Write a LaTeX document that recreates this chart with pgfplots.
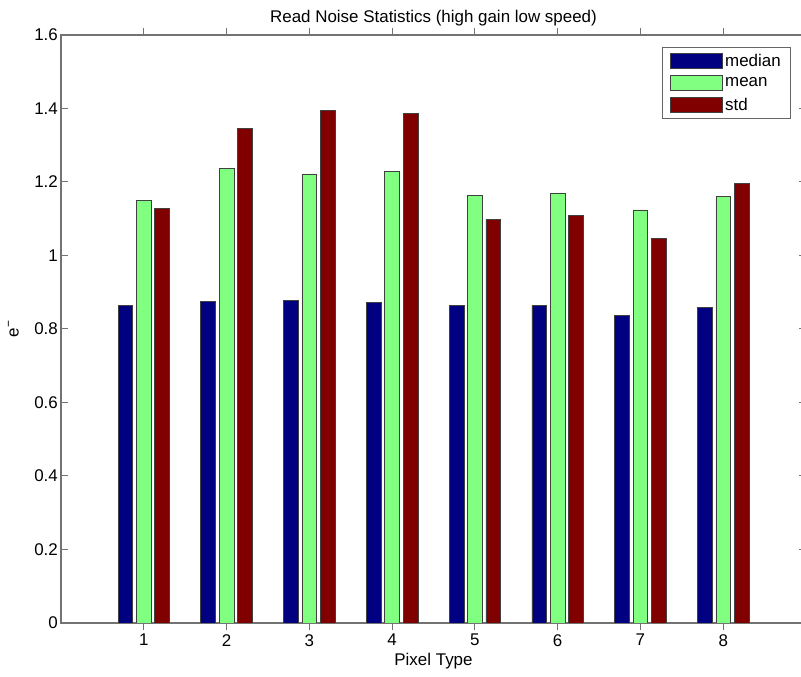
\documentclass[border=0pt]{standalone}
\usepackage{fontspec}
\setmainfont{Liberation Sans}
\usepackage{pgfplots}
\pgfplotsset{compat=1.18}

\definecolor{cmed}{rgb}{0,0,0.5}
\definecolor{cmean}{rgb}{0.5,1,0.5}
\definecolor{cstd}{rgb}{0.5,0,0}
\definecolor{axisgray}{gray}{0.45}

\pgfplotsset{
  swatch/.style={legend image code/.code={%
    \draw[fill=#1, draw=black!75, line width=0.7bp] (0bp,-7.5bp) rectangle (52bp,7.5bp);}},
}

\begin{document}
\begin{tikzpicture}
\begin{axis}[
  at={(0,0)}, anchor=south west,
  scale only axis, width=745bp, height=588bp,
  xmin=0, xmax=9, ymin=0, ymax=1.6,
  xtick={1,2,3,4,5,6,7,8},
  ytick={0,0.2,0.4,0.6,0.8,1,1.2,1.4,1.6},
  yticklabels={0,0.2,0.4,0.6,0.8,1,1.2,1.4,1.6},
  tick align=inside,
  major tick length=7bp,
  axis line style={axisgray, line width=1.2bp},
  every tick/.style={axisgray, line width=1bp},
  /pgf/number format/assume math mode=true,
  tick label style={font=\fontsize{17}{20}\selectfont, inner sep=2bp},
  yticklabel style={xshift=-1bp},
  xticklabel style={yshift=-2bp},
  title={Read Noise Statistics (high gain low speed)},
  title style={font=\fontsize{17}{20}\selectfont, yshift=-1bp},
  xlabel={Pixel Type},
  xlabel style={font=\fontsize{17}{20}\selectfont, yshift=-2bp},
  ylabel={e\textsuperscript{−}},
  ylabel style={font=\fontsize{17}{20}\selectfont, yshift=10bp},
  ybar, bar width=0.178,
  legend style={at={(0.980,0.9796)}, anchor=north east,
    draw=black!60, line width=0.8bp,
    font=\fontsize{17}{19}\selectfont,
    inner xsep=8bp, inner ysep=5bp, row sep=5bp,
    legend cell align=left},
]
\addplot[fill=cmed, draw=black!75, line width=0.7bp, bar shift=-0.222, swatch=cmed]
  coordinates {(1,0.865) (2,0.876) (3,0.878) (4,0.873) (5,0.863) (6,0.863) (7,0.837) (8,0.859)};
\addplot[fill=cmean, draw=black!75, line width=0.7bp, bar shift=0, swatch=cmean]
  coordinates {(1,1.151) (2,1.236) (3,1.222) (4,1.228) (5,1.164) (6,1.168) (7,1.124) (8,1.161)};
\addplot[fill=cstd, draw=black!75, line width=0.7bp, bar shift=0.222, swatch=cstd]
  coordinates {(1,1.128) (2,1.345) (3,1.394) (4,1.387) (5,1.098) (6,1.110) (7,1.046) (8,1.195)};
\legend{median, mean, std}
\end{axis}
\pgfresetboundingbox
\useasboundingbox (-61bp,-54bp) rectangle (740bp,623bp);
\end{tikzpicture}
\end{document}
